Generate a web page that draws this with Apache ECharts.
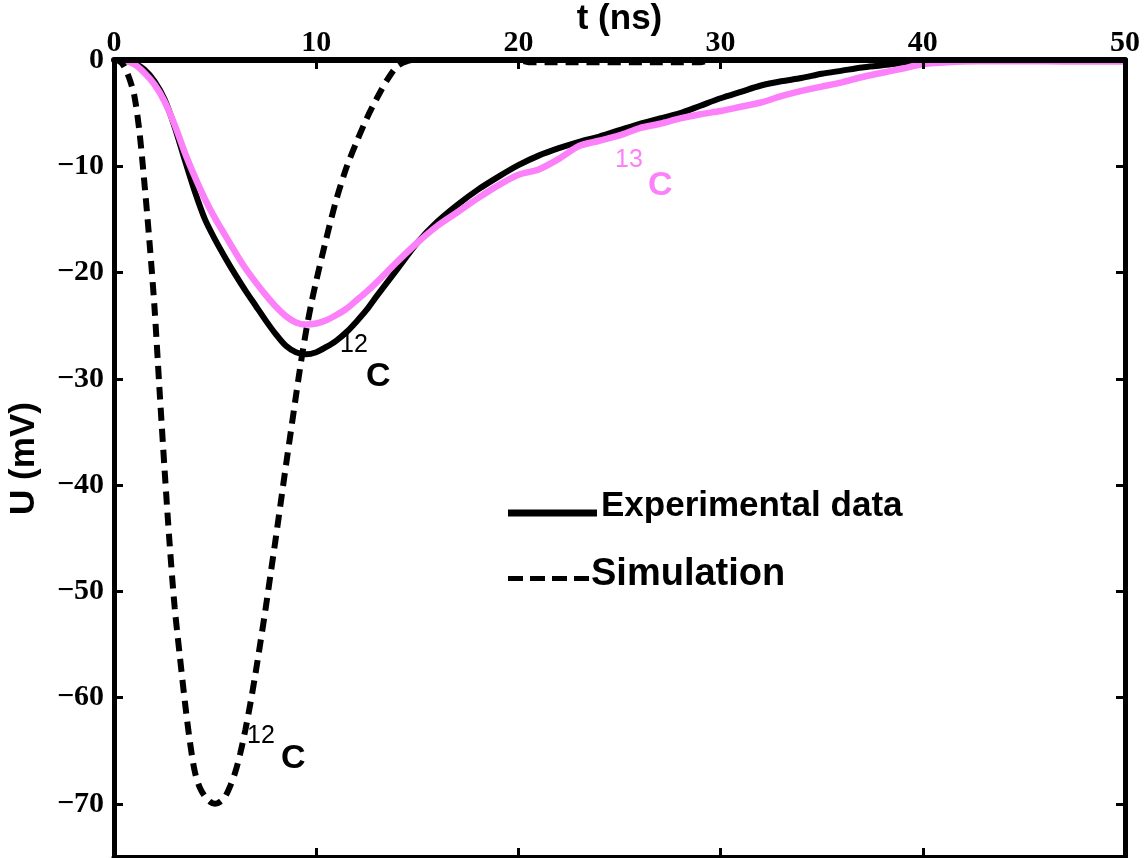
<!DOCTYPE html>
<html>
<head>
<meta charset="utf-8">
<script src="https://cdn.jsdelivr.net/npm/echarts@6/dist/echarts.min.js"></script>
<style>
  html, body { margin: 0; padding: 0; background: #fff; }
  #chart { width: 1145px; height: 858px; }
</style>
</head>
<body>
<div id="chart"></div>
<script>
// Tick positions
const xTicks = [0, 10, 20, 30, 40, 50];
const yTicks = [-70, -60, -50, -40, -30, -20, -10, 0];

// Measured signal, 12C and 13C (time in ns, voltage in mV)
const expTime = [0, 0.5, 1, 1.5, 2, 2.5, 3, 3.5, 4, 4.5, 5, 5.5, 6, 6.5, 7, 7.5, 8, 8.5, 9, 9.5,
  10, 10.5, 11, 11.5, 12, 12.5, 13, 14, 15, 16, 17, 18, 19, 20, 21, 22, 23, 24, 25, 26, 27, 28,
  29, 30, 31, 32, 33, 34, 35, 36, 37, 38, 39, 40, 42, 44, 46, 48, 50];
const expU12 = [0, -0.05, -0.3, -0.9, -2.0, -3.7, -6.3, -9.4, -12.4, -15.0, -16.9, -18.6, -20.2,
  -21.7, -23.1, -24.5, -25.8, -26.9, -27.5, -27.7, -27.5, -27.0, -26.4, -25.6, -24.6, -23.5,
  -22.2, -19.7, -17.2, -15.2, -13.6, -12.2, -11.0, -9.9, -9.0, -8.3, -7.7, -7.2, -6.6, -6.0,
  -5.5, -5.0, -4.3, -3.6, -3.0, -2.4, -2.0, -1.7, -1.3, -1.0, -0.7, -0.5, -0.25, -0.05, 0, 0,
  0, 0, 0];
const expU13 = [0, -0.05, -0.4, -1.2, -2.3, -3.9, -6.1, -8.7, -11.0, -13.1, -14.9, -16.5, -18.1,
  -19.6, -20.9, -22.1, -23.2, -24.1, -24.7, -24.9, -24.8, -24.5, -24.0, -23.4, -22.6, -21.8,
  -20.9, -19.0, -17.2, -15.6, -14.3, -13.0, -11.8, -10.8, -10.3, -9.3, -8.1, -7.6, -7.1, -6.4,
  -6.0, -5.5, -5.1, -4.8, -4.4, -4.0, -3.4, -2.9, -2.5, -2.1, -1.6, -1.2, -0.8, -0.4, -0.15,
  -0.1, -0.12, -0.15, -0.15];

// Simulated signal, 12C
const simTime = [0, 0.25, 0.5, 0.75, 1.0, 1.25, 1.5, 1.75, 2.0, 2.25, 2.5, 2.75, 3.0, 3.25, 3.5,
  3.75, 4.0, 4.25, 4.5, 4.75, 5.0, 5.25, 5.5, 5.75, 6.0, 6.25, 6.5, 6.75, 7.0, 7.25, 7.5, 7.75,
  8.0, 8.25, 8.5, 8.75, 9.0, 9.25, 9.5, 9.75, 10.0, 10.5, 11.0, 11.5, 12.0, 12.5, 13.0, 13.5,
  14.0, 14.5, 15, 17, 20, 20.5, 29, 29.5, 35, 40, 45, 50];
const simU12 = [0, -0.1, -0.6, -1.7, -3.3, -6.6, -11.5, -17.0, -23.2, -31.0, -38.5, -45.5,
  -51.5, -56.0, -60.3, -64.1, -67.0, -68.5, -69.3, -69.8, -70.0, -69.8, -69.3, -68.3, -67.0,
  -65.2, -63.0, -60.5, -57.7, -54.7, -51.6, -48.3, -45.0, -41.6, -38.2, -34.9, -31.6, -28.4,
  -25.5, -23.0, -20.8, -16.8, -13.1, -10.1, -7.7, -5.5, -3.6, -1.9, -0.6, -0.1, 0, 0,
  0, -0.2, -0.2, 0, 0, 0, 0, 0];

const pink = '#fc80fa';
const pairs = (ts, vs) => ts.map((t, i) => [t, vs[i]]);
const fmtY = v => (v < 0 ? '\u2212' + Math.abs(v) : String(v));

const frameLine = { show: true, onZero: false, lineStyle: { color: '#000', width: 5 } };
const topLine = { show: true, onZero: false, lineStyle: { color: '#000', width: 6 } };
const frameTick = { show: true, inside: true, length: 9, lineStyle: { color: '#000', width: 3 } };
const tickFont = { fontFamily: 'Liberation Serif', fontWeight: 'bold', fontSize: 30, color: '#000' };
const titleFont = { fontFamily: 'Liberation Sans', fontWeight: 'bold', fontSize: 35, color: '#000' };
const sansFont = '"Liberation Sans", Arial, sans-serif';

const chart = echarts.init(document.getElementById('chart'), null, { renderer: 'canvas' });

chart.setOption({
  animation: false,
  backgroundColor: '#fff',
  grid: { left: 114, right: 20, top: 60, bottom: 1, outerBoundsMode: 'none', containLabel: false },
  xAxis: [
    {
      type: 'value', position: 'top', min: 0, max: 50, interval: 10, z: 5,
      name: 't (ns)', nameLocation: 'middle', nameGap: 23, nameMoveOverlap: false,
      nameTextStyle: titleFont,
      axisLine: topLine, axisTick: frameTick,
      axisLabel: Object.assign({ margin: 2, showMinLabel: true, showMaxLabel: true,
        customValues: xTicks }, tickFont),
      splitLine: { show: false }
    },
    {
      type: 'value', position: 'bottom', min: 0, max: 50, interval: 10, z: 5,
      axisLine: frameLine, axisTick: frameTick,
      axisLabel: { show: false }, splitLine: { show: false }
    }
  ],
  yAxis: [
    {
      type: 'value', position: 'left', min: -75, max: 0, interval: 5, z: 5,
      name: 'U (mV)', nameLocation: 'middle', nameGap: 72, nameMoveOverlap: false,
      nameTextStyle: titleFont,
      axisLine: frameLine,
      axisTick: Object.assign({ customValues: yTicks }, frameTick),
      axisLabel: Object.assign({ margin: 10, customValues: yTicks, formatter: fmtY,
        showMinLabel: true, showMaxLabel: true }, tickFont),
      splitLine: { show: false }
    },
    {
      type: 'value', position: 'right', min: -75, max: 0, interval: 5, z: 5,
      axisLine: frameLine,
      axisTick: Object.assign({ customValues: yTicks }, frameTick),
      axisLabel: { show: false }, splitLine: { show: false }
    }
  ],
  series: [
    {
      name: 'Experimental data', type: 'line', xAxisIndex: 0, yAxisIndex: 0,
      data: pairs(expTime, expU12), smooth: 0.3, symbol: 'none', clip: true,
      lineStyle: { color: '#000', width: 6 }
    },
    {
      name: '13C', type: 'line', xAxisIndex: 0, yAxisIndex: 0,
      data: pairs(expTime, expU13), smooth: 0.3, symbol: 'none', clip: true,
      lineStyle: { color: pink, width: 6.5 }
    },
    {
      name: 'Simulation', type: 'line', xAxisIndex: 0, yAxisIndex: 0,
      data: pairs(simTime, simU12), smooth: 0.3, symbol: 'none', clip: true,
      lineStyle: { color: '#000', width: 6, type: [13, 8], cap: 'butt' }
    }
  ],
  graphic: [
    // key: measured vs simulated
    { type: 'line', shape: { x1: 508, y1: 513, x2: 597, y2: 513 },
      style: { stroke: '#000', lineWidth: 7 } },
    { type: 'text', style: { text: 'Experimental data', x: 601, y: 506, font: 'bold 35px ' + sansFont,
      fill: '#000', align: 'left', verticalAlign: 'middle' } },
    { type: 'line', shape: { x1: 508, y1: 578.5, x2: 590, y2: 578.5 },
      style: { stroke: '#000', lineWidth: 5, lineDash: [15, 7] } },
    { type: 'text', style: { text: 'Simulation', x: 591, y: 575, font: 'bold 38px ' + sansFont,
      fill: '#000', align: 'left', verticalAlign: 'middle' } },
    // isotope tags next to the curves
    { type: 'text', style: { text: '12', x: 340, y: 345, font: '25px ' + sansFont,
      fill: '#000', align: 'left', verticalAlign: 'middle' } },
    { type: 'text', style: { text: 'C', x: 366, y: 377, font: 'bold 34px ' + sansFont,
      fill: '#000', align: 'left', verticalAlign: 'middle' } },
    { type: 'text', style: { text: '12', x: 247, y: 736, font: '25px ' + sansFont,
      fill: '#000', align: 'left', verticalAlign: 'middle' } },
    { type: 'text', style: { text: 'C', x: 281, y: 759, font: 'bold 34px ' + sansFont,
      fill: '#000', align: 'left', verticalAlign: 'middle' } },
    { type: 'text', style: { text: '13', x: 615, y: 160, font: '25px ' + sansFont,
      fill: pink, align: 'left', verticalAlign: 'middle' } },
    { type: 'text', style: { text: 'C', x: 648, y: 186, font: 'bold 34px ' + sansFont,
      fill: pink, align: 'left', verticalAlign: 'middle' } }
  ]
});
</script>
</body>
</html>
